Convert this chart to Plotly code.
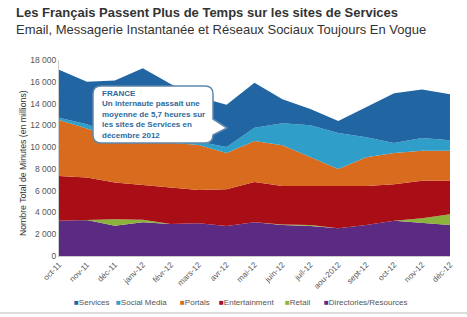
import plotly.graph_objects as go

months = ["oct-11", "nov-11", "déc-11", "janv-12", "févr-12", "mars-12", "avr-12",
          "mai-12", "juin-12", "juil-12", "aou-2012", "sept-12", "oct-12", "nov-12", "déc-12"]

directories = [3240, 3300, 2780, 3090, 2940, 3000, 2750, 3090, 2840, 2750, 2540, 2840, 3240, 3060, 2840]
retail = [0, 0, 600, 250, 0, 0, 0, 0, 50, 100, 0, 0, 0, 400, 1000]
entertainment = [4100, 3920, 3360, 3170, 3360, 3050, 3370, 3700, 3530, 3570, 3880, 3580, 3360, 3450, 3070]
portals = [5160, 4480, 4070, 3990, 4100, 4150, 3330, 3760, 3760, 2680, 1560, 2660, 2850, 2750, 2750]
social_media = [200, 400, 300, 300, 300, 300, 550, 1220, 2020, 2900, 3320, 1820, 920, 1170, 980]
services = [4400, 3900, 5000, 6450, 5100, 4100, 3900, 4130, 2200, 1500, 1100, 2800, 4580, 4470, 4210]

series = [
    ("Directories/Resources", directories, "#5b2a82"),
    ("Retail", retail, "#8db33c"),
    ("Entertainment", entertainment, "#a90e16"),
    ("Portals", portals, "#d96b1e"),
    ("Social Media", social_media, "#2f9fc9"),
    ("Services", services, "#2166a3"),
]

W, H = 467, 317
L, R, T, B = 59, 450, 60, 256


def px(x):
    return (x - L) / (R - L)


def py(y):
    return (B - y) / (B - T)


fig = go.Figure()
for name, vals, col in series:
    fig.add_trace(go.Scatter(
        x=months, y=vals, name=name, mode="lines", stackgroup="one",
        line=dict(width=0, color=col), fillcolor=col, showlegend=False,
        hoverinfo="skip",
    ))

font = "Liberation Sans, Arial, sans-serif"
anns = []
# titles
anns.append(dict(text="<b>Les Français Passent Plus de Temps sur les sites de Services</b>",
                 xref="paper", yref="paper", x=px(14), y=py(13), xanchor="left", yanchor="middle",
                 showarrow=False, font=dict(family=font, size=13, color="#333333")))
anns.append(dict(text="Email, Messagerie Instantanée et Réseaux Sociaux Toujours En Vogue",
                 xref="paper", yref="paper", x=px(14), y=py(29), xanchor="left", yanchor="middle",
                 showarrow=False, font=dict(family=font, size=13, color="#333333")))
# y axis title
anns.append(dict(text="Nombre Total de Minutes (en millions)", textangle=-90,
                 xref="paper", yref="paper", x=px(23), y=py(163), xanchor="center", yanchor="middle",
                 showarrow=False, font=dict(family=font, size=8.7, color="#333333")))
# callout text
anns.append(dict(text="<b>FRANCE<br>Un internaute passait une<br>moyenne de 5,7 heures sur<br>les sites de Services en<br>décembre 2012</b>",
                 xref="paper", yref="paper", x=px(100), y=py(114), xanchor="left", yanchor="middle",
                 align="left", showarrow=False, font=dict(family=font, size=8, color="#2e6a9c")))
# legend
legend_items = [("Services", "#2166a3", 72), ("Social Media", "#2f9fc9", 114),
                ("Portals", "#d96b1e", 178), ("Entertainment", "#a90e16", 217),
                ("Retail", "#8db33c", 283), ("Directories/Resources", "#5b2a82", 322)]
for name, col, xpos in legend_items:
    anns.append(dict(text=f"<span style='color:{col}'>■</span>{name}",
                     xref="paper", yref="paper", x=px(xpos), y=py(302), xanchor="left", yanchor="middle",
                     showarrow=False, font=dict(family=font, size=8, color="#555555")))

# callout shape: rounded rect with pointer on right
x0, x1, y0, y1, r = 93, 213, 86, 143, 8
pts = [
    f"M {px(x0 + r)},{py(y0)}",
    f"L {px(x1 - r)},{py(y0)}",
    f"Q {px(x1)},{py(y0)} {px(x1)},{py(y0 + r)}",
    f"L {px(x1)},{py(119)}",
    f"L {px(227)},{py(128)}",
    f"L {px(x1)},{py(135)}",
    f"L {px(x1)},{py(y1 - r)}",
    f"Q {px(x1)},{py(y1)} {px(x1 - r)},{py(y1)}",
    f"L {px(x0 + r)},{py(y1)}",
    f"Q {px(x0)},{py(y1)} {px(x0)},{py(y1 - r)}",
    f"L {px(x0)},{py(y0 + r)}",
    f"Q {px(x0)},{py(y0)} {px(x0 + r)},{py(y0)}",
    "Z",
]
shapes = [dict(type="path", xref="paper", yref="paper", path=" ".join(pts),
               fillcolor="white", line=dict(color="#5f88aa", width=1.5)),
          dict(type="line", xref="paper", yref="paper", x0=px(0), x1=px(467), y0=py(313), y1=py(313),
               line=dict(color="#dddddd", width=2))]

fig.update_layout(
    width=W, height=H,
    margin=dict(l=L, r=W - R, t=T, b=H - B, pad=0),
    paper_bgcolor="white", plot_bgcolor="white",
    separators=", ",
    showlegend=False,
    annotations=anns, shapes=shapes,
    font=dict(family=font, size=8, color="#555555"),
    xaxis=dict(type="category", range=[0, len(months) - 1], showgrid=False, zeroline=False,
               showline=True, linecolor="#cccccc", linewidth=1, tickangle=-45,
               tickfont=dict(size=8, color="#555555"), ticks=""),
    yaxis=dict(range=[0, 18000], dtick=2000, tickformat=",d", showgrid=False, zeroline=False,
               showline=True, linecolor="#cccccc", linewidth=1, ticks="",
               tickfont=dict(size=8.5, color="#555555")),
)

fig.write_html("out.html")
